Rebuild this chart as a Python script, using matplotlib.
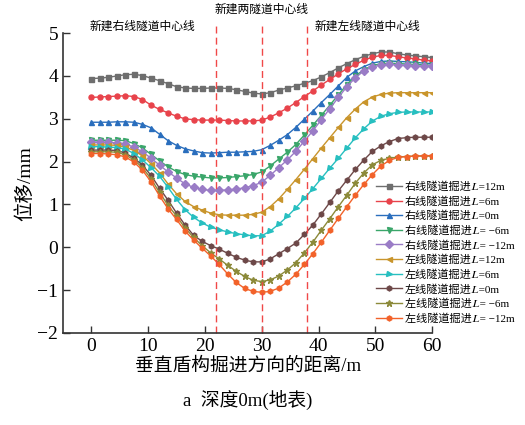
import matplotlib
matplotlib.use('Agg')
import matplotlib.pyplot as plt

plt.rcParams['font.family'] = ['Liberation Serif', 'Noto Sans CJK SC', 'STIXGeneral', 'DejaVu Sans']
plt.rcParams['axes.unicode_minus'] = True

x = [0, 1.5, 3, 4.5, 6, 7.5, 9, 10.5, 12, 13.5, 15, 16.5, 18, 19.5, 21, 22.5, 24, 25.5, 27, 28.5,
     30, 31.5, 33, 34.5, 36, 37.5, 39, 40.5, 42, 43.5, 45, 46.5, 48, 49.5, 51, 52.5, 54, 55.5, 57, 58.5, 60]

r_12 = [3.94, 3.95, 3.97, 4.00, 4.03, 4.04, 4.01, 3.95, 3.89, 3.82, 3.75, 3.72, 3.71, 3.71, 3.72, 3.72, 3.71, 3.68, 3.64, 3.60,
        3.58, 3.61, 3.67, 3.72, 3.77, 3.83, 3.89, 3.98, 4.08, 4.19, 4.29, 4.38, 4.46, 4.52, 4.56, 4.56, 4.52, 4.49, 4.47, 4.45, 4.43]
r_6 = [3.50, 3.51, 3.52, 3.53, 3.54, 3.52, 3.45, 3.32, 3.22, 3.14, 3.06, 3.00, 2.98, 2.97, 2.97, 2.97, 2.96, 2.95, 2.95, 2.95,
       2.97, 3.04, 3.14, 3.25, 3.38, 3.52, 3.65, 3.79, 3.92, 4.05, 4.17, 4.27, 4.37, 4.44, 4.48, 4.48, 4.45, 4.42, 4.40, 4.37, 4.35]
r_0 = [2.92, 2.92, 2.92, 2.93, 2.93, 2.92, 2.87, 2.79, 2.64, 2.49, 2.38, 2.30, 2.25, 2.21, 2.20, 2.21, 2.22, 2.22, 2.23, 2.24,
       2.28, 2.38, 2.50, 2.63, 2.80, 2.99, 3.18, 3.38, 3.57, 3.77, 3.97, 4.12, 4.22, 4.30, 4.34, 4.35, 4.34, 4.33, 4.32, 4.30, 4.29]
r_m6 = [2.50, 2.50, 2.50, 2.50, 2.49, 2.42, 2.32, 2.17, 2.02, 1.88, 1.77, 1.70, 1.66, 1.64, 1.62, 1.62, 1.63, 1.65, 1.67, 1.70,
        1.76, 1.90, 2.06, 2.22, 2.40, 2.62, 2.85, 3.08, 3.32, 3.56, 3.80, 4.00, 4.15, 4.24, 4.29, 4.30, 4.29, 4.28, 4.27, 4.26, 4.25]
r_m12 = [2.46, 2.46, 2.45, 2.44, 2.41, 2.34, 2.23, 2.08, 1.92, 1.76, 1.62, 1.48, 1.40, 1.35, 1.33, 1.33, 1.34, 1.36, 1.39, 1.44,
         1.52, 1.68, 1.86, 2.04, 2.24, 2.48, 2.72, 2.98, 3.24, 3.50, 3.75, 3.96, 4.12, 4.21, 4.26, 4.27, 4.26, 4.25, 4.24, 4.23, 4.23]
l_12 = [2.39, 2.39, 2.39, 2.38, 2.34, 2.26, 2.14, 1.95, 1.74, 1.48, 1.25, 1.07, 0.95, 0.87, 0.80, 0.76, 0.75, 0.75, 0.75, 0.77,
        0.82, 0.95, 1.13, 1.35, 1.58, 1.82, 2.07, 2.32, 2.56, 2.80, 3.03, 3.23, 3.40, 3.51, 3.57, 3.60, 3.61, 3.61, 3.61, 3.61, 3.61]
l_6 = [2.35, 2.35, 2.34, 2.33, 2.29, 2.19, 2.04, 1.86, 1.66, 1.40, 1.12, 0.88, 0.70, 0.57, 0.47, 0.41, 0.36, 0.32, 0.29, 0.27,
       0.27, 0.38, 0.54, 0.72, 0.92, 1.14, 1.37, 1.61, 1.85, 2.08, 2.32, 2.56, 2.77, 2.95, 3.06, 3.12, 3.15, 3.16, 3.16, 3.16, 3.16]
l_0 = [2.27, 2.27, 2.27, 2.26, 2.20, 2.08, 1.92, 1.68, 1.38, 1.10, 0.80, 0.52, 0.28, 0.14, 0.04, -0.04, -0.14, -0.23, -0.30, -0.34,
       -0.34, -0.27, -0.15, -0.03, 0.10, 0.30, 0.52, 0.78, 1.05, 1.32, 1.57, 1.82, 2.04, 2.24, 2.37, 2.47, 2.54, 2.56, 2.57, 2.57, 2.57]
l_m6 = [2.23, 2.23, 2.23, 2.22, 2.16, 2.04, 1.86, 1.60, 1.28, 0.98, 0.73, 0.45, 0.23, 0.04, -0.13, -0.27, -0.42, -0.56, -0.68, -0.77,
        -0.80, -0.76, -0.67, -0.53, -0.36, -0.13, 0.12, 0.40, 0.67, 0.95, 1.22, 1.50, 1.74, 1.93, 2.03, 2.08, 2.11, 2.12, 2.13, 2.13, 2.13]
l_m12 = [2.19, 2.19, 2.18, 2.16, 2.11, 1.99, 1.80, 1.53, 1.20, 0.90, 0.65, 0.38, 0.17, -0.02, -0.20, -0.40, -0.62, -0.82, -0.96, -1.03,
         -1.05, -1.03, -0.95, -0.81, -0.63, -0.40, -0.15, 0.12, 0.40, 0.68, 0.95, 1.22, 1.47, 1.70, 1.90, 2.03, 2.10, 2.12, 2.13, 2.14, 2.14]

# italic L from the math alphanumerics block (falls back to STIXGeneral)
series = [
    (r_12, '右线隧道掘进\U0001D43F=12m', 's', '#6e6e6e'),
    (r_6, '右线隧道掘进\U0001D43F=6m', 'o', '#e8434b'),
    (r_0, '右线隧道掘进\U0001D43F=0m', '^', '#2a6ebd'),
    (r_m6, '右线隧道掘进\U0001D43F= −6m', 'v', '#3aa66a'),
    (r_m12, '右线隧道掘进\U0001D43F= −12m', 'D', '#9a7cc6'),
    (l_12, '左线隧道掘进\U0001D43F=12m', '<', '#c9952c'),
    (l_6, '左线隧道掘进\U0001D43F=6m', '>', '#27bfc0'),
    (l_0, '左线隧道掘进\U0001D43F=0m', 'h', '#6d4848'),
    (l_m6, '左线隧道掘进\U0001D43F= −6m', '*', '#8c8a3a'),
    (l_m12, '左线隧道掘进\U0001D43F= −12m', 'h', '#f2622a'),
]

fig = plt.figure(figsize=(5.25, 4.25), dpi=100)
ax = fig.add_axes([0.12, 0.2165, 0.703, 0.7055])

for ys, lab, mk, c in series:
    ms = 4.5 if mk == '*' else 3.6
    ax.plot(x, ys, marker=mk, color=c, label=lab, linewidth=1.0, markersize=ms)

for xv in [22, 30, 38]:
    ax.axvline(xv, ymin=0, ymax=1.035, color='#f04848', linestyle=(0, (5, 3)), linewidth=1.0, clip_on=False)

ax.set_xlim(-5, 60)
ax.set_ylim(-2, 5)
ax.set_xticks([0, 10, 20, 30, 40, 50, 60])
ax.set_yticks([-2, -1, 0, 1, 2, 3, 4, 5])
ax.tick_params(direction='in', labelsize=14, length=5, width=1, colors='#333333', labelcolor='black')
for s in ['top', 'right']:
    ax.spines[s].set_visible(False)
for s in ['left', 'bottom']:
    ax.spines[s].set_color('#333333')
    ax.spines[s].set_linewidth(1.2)

ax.set_ylabel('位移/mm', fontsize=14, labelpad=2)
fig.text(0.472, 0.14, '垂直盾构掘进方向的距离/m', fontsize=13.5, ha='center', va='center')
fig.text(0.472, 0.058, 'a  深度0m(地表)', fontsize=13.5, ha='center', va='center')

fig.text(0.272, 0.938, '新建右线隧道中心线', fontsize=8.5, ha='center', va='center')
fig.text(0.499, 0.976, '新建两隧道中心线', fontsize=8.5, ha='center', va='center')
fig.text(0.700, 0.938, '新建左线隧道中心线', fontsize=8.5, ha='center', va='center')

fig.legend(loc='lower left', bbox_to_anchor=(0.708, 0.228), frameon=False, fontsize=8,
           handlelength=2.3, handletextpad=0.3, labelspacing=0.36, borderaxespad=0)

fig.savefig('out.png', dpi=100)
